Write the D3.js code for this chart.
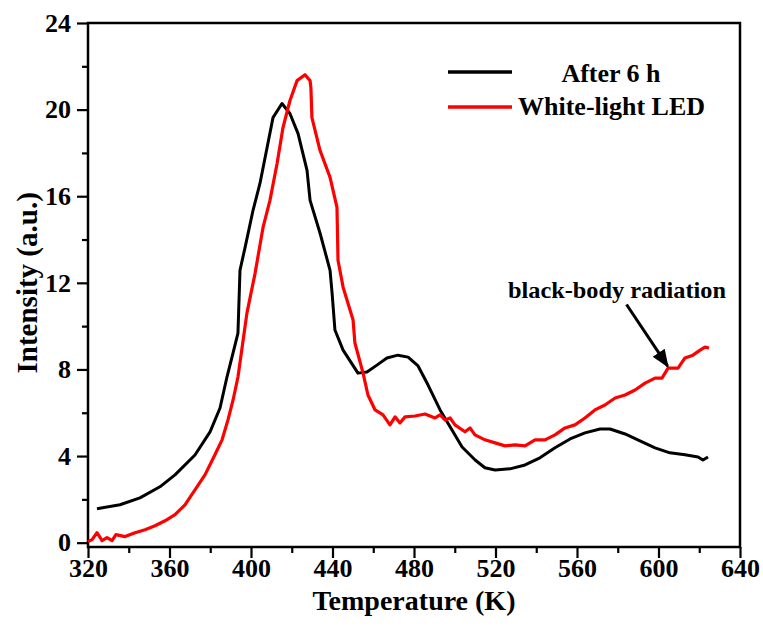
<!DOCTYPE html>
<html>
<head>
<meta charset="utf-8">
<script src="https://cdn.jsdelivr.net/npm/d3@7"></script>
<style>
  body { margin: 0; background: #fff; }
  text { font-family: "Liberation Serif", "Times New Roman", serif; font-weight: bold; fill: #000; }
</style>
</head>
<body>
<div id="chart"></div>
<script>
// données
const blackT = [324.4, 335.7, 345.5, 355.3, 362.7, 372.5, 379.9, 384.8, 388.2, 391.2, 393.6, 394.6, 397.1, 401.0, 404.4, 407.9, 410.8, 415.2, 419.1, 423.1, 427.5, 429.0, 433.9, 438.8, 439.8, 441.2, 445.2, 452.5, 456.9, 461.8, 466.7, 472.1, 477.1, 482.0, 486.9, 492.8, 497.7, 503.6, 510.0, 514.8, 519.8, 527.1, 534.5, 541.8, 549.2, 556.6, 563.9, 571.3, 576.2, 583.6, 590.9, 598.3, 605.6, 613.0, 619.4, 621.8, 624.3];
const blackI = [1.57, 1.75, 2.07, 2.58, 3.13, 4.05, 5.12, 6.22, 7.65, 8.76, 9.68, 12.58, 13.64, 15.35, 16.59, 18.25, 19.63, 20.28, 19.82, 18.89, 17.19, 15.81, 14.29, 12.58, 11.52, 9.82, 8.89, 7.83, 7.88, 8.20, 8.53, 8.66, 8.57, 8.16, 7.28, 6.13, 5.35, 4.42, 3.82, 3.46, 3.36, 3.41, 3.59, 3.92, 4.38, 4.79, 5.07, 5.25, 5.25, 5.02, 4.70, 4.38, 4.15, 4.06, 3.96, 3.82, 3.96];

const redT = [320.0, 322.0, 324.4, 326.9, 329.3, 331.8, 333.7, 338.2, 343.1, 348.0, 352.9, 357.8, 362.7, 367.6, 372.5, 377.4, 382.3, 385.8, 388.7, 391.2, 393.6, 398.0, 402.0, 405.9, 409.3, 412.8, 415.7, 419.1, 422.6, 426.5, 429.0, 429.4, 429.9, 433.9, 438.8, 442.2, 442.7, 445.2, 450.1, 451.0, 455.0, 457.4, 460.9, 464.8, 468.2, 470.7, 473.1, 475.6, 480.5, 485.4, 490.3, 492.8, 495.2, 497.7, 500.1, 505.0, 507.5, 509.9, 514.8, 519.8, 524.7, 529.6, 534.5, 539.4, 544.3, 549.2, 554.1, 559.0, 563.9, 568.8, 573.7, 578.7, 583.6, 588.5, 593.4, 598.3, 601.7, 604.7, 609.6, 613.0, 616.9, 620.4, 622.8, 624.8];
const redI = [0.05, 0.14, 0.46, 0.09, 0.23, 0.09, 0.37, 0.28, 0.46, 0.60, 0.78, 1.01, 1.29, 1.75, 2.44, 3.13, 4.06, 4.75, 5.67, 6.59, 7.65, 10.60, 12.44, 14.56, 15.81, 17.51, 19.17, 20.41, 21.34, 21.61, 21.34, 21.01, 19.63, 18.11, 16.87, 15.48, 13.04, 11.80, 10.28, 9.22, 7.83, 6.82, 6.13, 5.90, 5.44, 5.81, 5.53, 5.81, 5.85, 5.94, 5.76, 5.90, 5.67, 5.76, 5.44, 5.12, 5.30, 4.98, 4.75, 4.61, 4.47, 4.52, 4.47, 4.75, 4.75, 4.98, 5.30, 5.44, 5.76, 6.13, 6.36, 6.68, 6.82, 7.05, 7.37, 7.60, 7.60, 8.06, 8.06, 8.53, 8.66, 8.89, 9.03, 8.99];

const seriesNames = ["After 6 h", "White-light LED"];
const xTicks = [320, 360, 400, 440, 480, 520, 560, 600, 640];
const yTicks = [0, 4, 8, 12, 16, 20, 24];

const WIDTH = 763
const HEIGHT = 628
const margin = { left: 88, right: 23, top: 23, bottom: 81 };

const svg = d3.select("#chart")
    .append("svg")
    .attr("width", WIDTH)
    .attr("height", HEIGHT);

const x = d3.scaleLinear().domain([320, 640]).range([margin.left, WIDTH - margin.right]);
const y = d3.scaleLinear().domain([-0.2, 24]).range([HEIGHT - margin.bottom, margin.top]);

// axes
const xAxis = d3.axisBottom(x).tickValues(xTicks).tickSize(11).tickPadding(1);
const yAxis = d3.axisLeft(y).tickValues(yTicks).tickSize(11).tickPadding(6);

svg.append("g")
    .attr("transform", `translate(0,${HEIGHT - margin.bottom})`)
    .call(xAxis);
svg.append("g")
    .attr("transform", `translate(${margin.left},0)`)
    .call(yAxis);

// petites graduations
svg.append("g")
    .attr("transform", `translate(0,${HEIGHT - margin.bottom})`)
    .call(d3.axisBottom(x).tickValues(d3.range(340, 640, 40)).tickSize(6).tickFormat(""));
svg.append("g")
    .attr("transform", `translate(${margin.left},0)`)
    .call(d3.axisLeft(y).tickValues(d3.range(2, 24, 4)).tickSize(6).tickFormat(""));

svg.selectAll(".domain").remove();
svg.selectAll(".tick line").attr("stroke", "#000").attr("stroke-width", 2.2);
svg.selectAll(".tick text")
    .attr("font-family", "Liberation Serif, Times New Roman, serif")
    .attr("font-weight", "bold")
    .attr("font-size", 26)
    .attr("fill", "#000");

// cadre
svg.append("rect")
    .attr("x", x(320))
    .attr("y", y(24))
    .attr("width", x(640) - x(320))
    .attr("height", y(-0.2) - y(24))
    .attr("fill", "none")
    .attr("stroke", "#000")
    .attr("stroke-width", 2.5);

// courbes
const line = d3.line().x(d => x(d[0])).y(d => y(d[1]));
const blackData = blackT.map((t, i) => [t, blackI[i]]);
const redData = redT.map((t, i) => [t, redI[i]]);

svg.append("path")
    .datum(blackData)
    .attr("d", line)
    .attr("fill", "none")
    .attr("stroke", "#000")
    .attr("stroke-width", 3)
    .attr("stroke-linejoin", "round");

svg.append("path")
    .datum(redData)
    .attr("d", line)
    .attr("fill", "none")
    .attr("stroke", "#ff0000")
    .attr("stroke-width", 3.2)
    .attr("stroke-linejoin", "round");

// titres des axes
svg.append("text")
    .attr("x", (x(320) + x(640)) / 2)
    .attr("y", 610)
    .attr("text-anchor", "middle")
    .attr("font-size", 28)
    .text("Temperature (K)");

svg.append("text")
    .attr("transform", `translate(37,${y(12)}) rotate(-90)`)
    .attr("text-anchor", "middle")
    .attr("font-size", 29)
    .text("Intensity (a.u.)");

// légende
const legend = svg.append("g");
const colors = ["#000", "#ff0000"];
seriesNames.forEach((name, i) => {
    legend.append("line")
        .attr("x1", 448).attr("x2", 512)
        .attr("y1", 72 + i * 35).attr("y2", 72 + i * 35)
        .attr("stroke", colors[i])
        .attr("stroke-width", 3.5);
    legend.append("text")
        .attr("x", i == 0 ? 611 : 518)
        .attr("y", 82 + i * 33)
        .attr("text-anchor", i == 0 ? "middle" : "start")
        .attr("font-size", 26)
        .text(name);
});

// annotation
const arrowFrom = [584.3, 11.0];
const arrowTo = [604.5, 8.15];
svg.append("defs").append("marker")
    .attr("id", "head")
    .attr("viewBox", "0 0 10 10")
    .attr("refX", 9).attr("refY", 5)
    .attr("markerWidth", 6).attr("markerHeight", 6)
    .attr("markerUnits", "strokeWidth")
    .attr("orient", "auto")
    .append("path")
    .attr("d", "M0,1 L10,5 L0,9 Z")
    .attr("fill", "#000");

svg.append("line")
    .attr("x1", x(arrowFrom[0])).attr("y1", y(arrowFrom[1]))
    .attr("x2", x(arrowTo[0])).attr("y2", y(arrowTo[1]))
    .attr("stroke", "#000")
    .attr("stroke-width", 3)
    .attr("marker-end", "url(#head)");

svg.append("text")
    .attr("x", 617)
    .attr("y", 298)
    .attr("text-anchor", "middle")
    .attr("font-size", 23)
    .attr("textLength", 218)
    .attr("lengthAdjust", "spacingAndGlyphs")
    .text("black-body radiation");
</script>
</body>
</html>
